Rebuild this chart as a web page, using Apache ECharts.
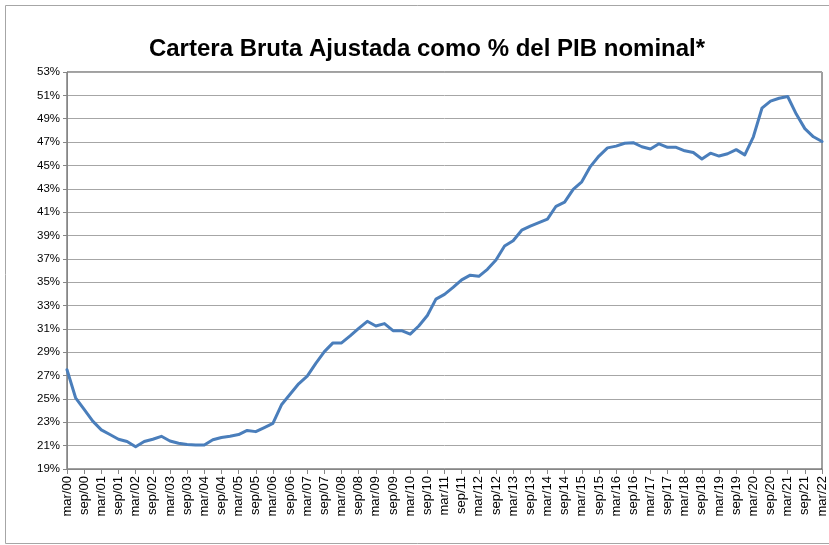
<!DOCTYPE html>
<html>
<head>
<meta charset="utf-8">
<title>Cartera Bruta Ajustada como % del PIB nominal*</title>
<script src="https://cdn.jsdelivr.net/npm/echarts@6.0.0/dist/echarts.min.js"></script>
<style>
  html, body { margin: 0; padding: 0; background: #ffffff; }
  #chart { width: 829px; height: 545px; }
</style>
</head>
<body>
<div id="chart"></div>
<script>
// Quarterly series, March 2000 to March 2022
var quarterMonths = ['mar', 'jun', 'sep', 'dic'];
var years = ['00','01','02','03','04','05','06','07','08','09','10',
             '11','12','13','14','15','16','17','18','19','20','21','22'];

// Gross adjusted loan portfolio as % of nominal GDP
var carteraPib = [
  27.5, 25.1, 24.1, 23.1, 22.35, 21.95, 21.55, 21.35, 20.9, 21.35,
  21.55, 21.8, 21.4, 21.2, 21.1, 21.05, 21.05, 21.5, 21.7, 21.8,
  21.95, 22.3, 22.2, 22.55, 22.9, 24.5, 25.4, 26.3, 26.95, 28.05,
  29.05, 29.8, 29.8, 30.4, 31.05, 31.65, 31.25, 31.45, 30.85, 30.85,
  30.55, 31.25, 32.15, 33.55, 33.95, 34.55, 35.2, 35.6, 35.5, 36.1,
  36.9, 38.1, 38.55, 39.45, 39.8, 40.1, 40.4, 41.5, 41.85, 42.95,
  43.6, 44.9, 45.8, 46.5, 46.65, 46.9, 46.95, 46.6, 46.4, 46.85,
  46.55, 46.55, 46.25, 46.1, 45.55, 46.05, 45.8, 46.0, 46.35, 45.9,
  47.45, 49.9, 50.5, 50.75, 50.9, 49.4, 48.15, 47.45, 47.05
];

// Value axis range and step (percent)
var yMin = 19;
var yMax = 53;
var yStep = 2;

var chartTitle = 'Cartera Bruta Ajustada como % del PIB nominal*';

// Category labels: mar/00, jun/00, ... up to mar/22
var categories = [];
years.forEach(function (y) {
  quarterMonths.forEach(function (m) {
    if (categories.length < carteraPib.length) categories.push(m + '/' + y);
  });
});

var chart = echarts.init(document.getElementById('chart'), null, { renderer: 'canvas' });

chart.setOption({
  animation: false,
  backgroundColor: '#ffffff',
  title: {
    text: chartTitle,
    left: 422,
    top: 32,
    textAlign: 'center',
    textStyle: {
      fontFamily: 'Liberation Sans, Arial, sans-serif',
      fontWeight: 'bold',
      fontSize: 24,
      color: '#000000'
    }
  },
  graphic: [{
    type: 'rect',
    silent: true,
    shape: { x: 5.5, y: 5.5, width: 840, height: 538 },
    style: { fill: null, stroke: '#a6a6a6', lineWidth: 1 }
  }],
  grid: {
    left: 67,
    right: 7,
    top: 72,
    bottom: 76,
    show: true,
    borderColor: '#404040',
    borderWidth: 1,
    containLabel: false
  },
  xAxis: {
    type: 'category',
    data: categories,
    boundaryGap: false,
    axisLine: { lineStyle: { color: '#868686', width: 1 } },
    axisTick: { interval: 1, length: 5, lineStyle: { color: '#868686' } },
    axisLabel: {
      interval: 1,
      rotate: 90,
      margin: 7,
      fontFamily: 'Liberation Sans, Arial, sans-serif',
      fontSize: 13,
      color: '#000000'
    },
    splitLine: { show: false }
  },
  yAxis: {
    type: 'value',
    min: yMin,
    max: yMax,
    interval: yStep,
    axisLine: { show: true, lineStyle: { color: '#868686', width: 1 } },
    axisTick: { show: true, length: 4, lineStyle: { color: '#868686' } },
    axisLabel: {
      formatter: '{value}%',
      margin: 7,
      fontFamily: 'Liberation Sans, Arial, sans-serif',
      fontSize: 11.5,
      color: '#000000'
    },
    splitLine: { show: true, lineStyle: { color: '#a6a6a6', width: 1 } }
  },
  series: [{
    type: 'line',
    data: carteraPib,
    showSymbol: false,
    symbol: 'none',
    smooth: false,
    lineStyle: { color: '#4a7ebb', width: 3, join: 'round', cap: 'round' },
    emphasis: { disabled: true }
  }]
});
</script>
</body>
</html>
